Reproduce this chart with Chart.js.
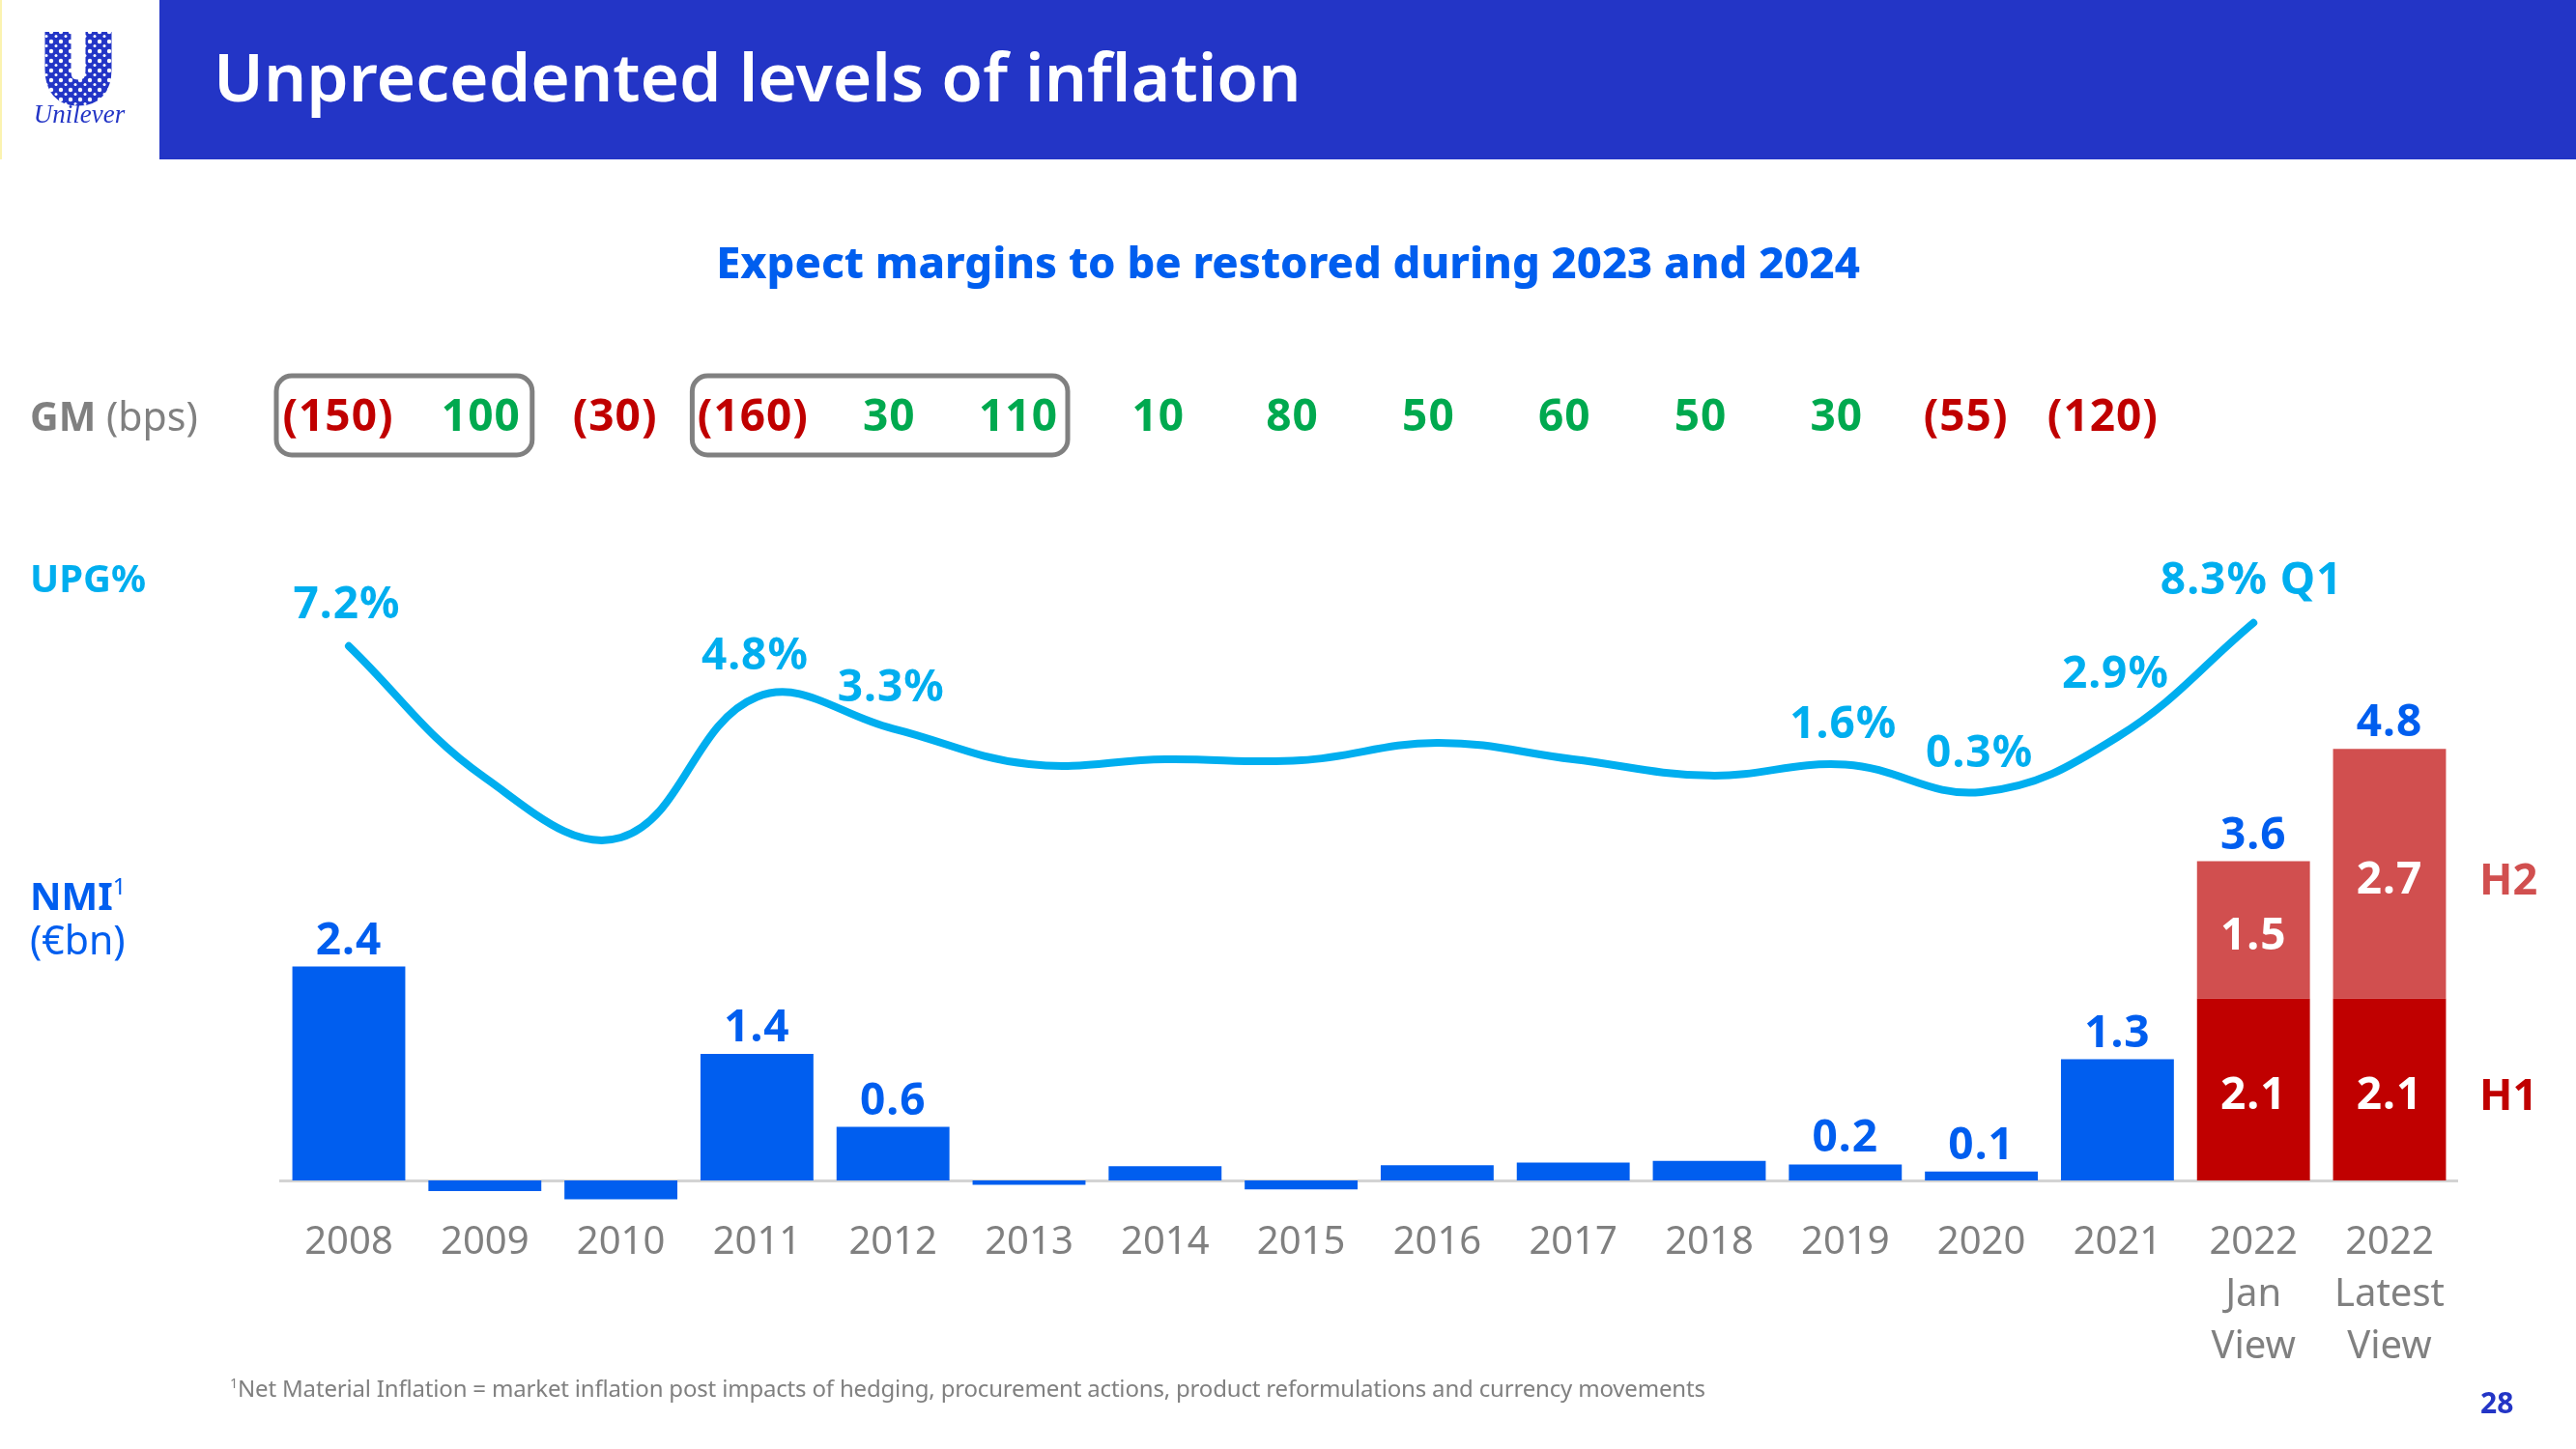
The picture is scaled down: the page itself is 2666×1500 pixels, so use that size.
<!DOCTYPE html>
<html>
<head>
<meta charset="utf-8">
<title>Unprecedented levels of inflation</title>
<script src="https://cdn.jsdelivr.net/npm/chart.js@4"></script>
<style>
    html, body { margin: 0; padding: 0; background: #fff; }
    body { width: 2666px; height: 1500px; position: relative; overflow: hidden; font-family: "Noto Sans", sans-serif; }
    canvas { position: absolute; left: 0; top: 0; }
    .txt { position: absolute; white-space: nowrap; line-height: 1; }
    #header { position: absolute; left: 165px; top: 0; width: 2501px; height: 165px; background: #2335C6; }
    #edge { position: absolute; left: 0; top: 0; width: 2px; height: 165px; background: #FBF3B0; }
    sup { font-size: 0.6em; font-weight: 400; line-height: 0; vertical-align: 0.65em; }
</style>
</head>
<body>
<canvas id="chart" width="2666" height="1500"></canvas>
<div id="edge"></div>
<div id="header"></div>
<svg style="position:absolute;left:30px;top:28px" width="110" height="110" viewBox="30 28 110 110">
    <defs>
        <pattern id="dots" width="10" height="10" patternUnits="userSpaceOnUse">
            <rect width="10" height="10" fill="#2335C6"></rect>
            <circle cx="3" cy="3" r="2.2" fill="#fff"></circle>
            <circle cx="8" cy="7.5" r="1.5" fill="#fff"></circle>
        </pattern>
    </defs>
    <path d="M60 33 V72 Q60 96 81 96 Q102 96 102 72 V33" fill="none" stroke="url(#dots)" stroke-width="27"></path>
    <text x="82" y="127" text-anchor="middle" fill="#2335C6" font-family="Liberation Serif" font-style="italic" font-size="27">Unilever</text>
</svg>
<div class="txt" style="left:221px;top:44px;font-size:69.5px;font-weight:600;color:#fff">Unprecedented levels of inflation</div>
<div class="txt" style="left:0;width:2666px;text-align:center;top:248px;font-size:45.3px;font-weight:800;color:#005EEF">Expect margins to be restored during 2023 and 2024</div>
<div class="txt" style="left:31px;top:410px;font-size:41px;color:#808080"><b>GM</b> (bps)</div>
<div class="txt" style="left:31px;top:578px;font-size:40px;font-weight:700;color:#00AEEF">UPG%</div>
<div class="txt" style="left:31px;top:907px;font-size:40px;font-weight:700;color:#005EEF">NMI<sup>1</sup></div>
<div class="txt" style="left:31px;top:952px;font-size:41px;color:#005EEF">(€bn)</div>
<div class="txt" style="left:2566px;top:886px;font-size:45px;font-weight:700;color:#D14F4F">H2</div>
<div class="txt" style="left:2566px;top:1109px;font-size:45px;font-weight:700;color:#C00000">H1</div>
<div class="txt" style="left:238px;top:1425px;font-size:24px;letter-spacing:-0.18px;color:#808080"><sup>1</sup>Net Material Inflation = market inflation post impacts of hedging, procurement actions, product reformulations and currency movements</div>
<div class="txt" style="left:2567px;top:1437px;font-size:30px;font-weight:700;color:#2335C6">28</div>
<script>
const categories = ['2008', '2009', '2010', '2011', '2012', '2013', '2014', '2015', '2016', '2017', '2018', '2019', '2020', '2021',
    ['2022', 'Jan', 'View'], ['2022', 'Latest', 'View']];

// bar heights, unlabelled years are estimates
const nmi = [2.4, -0.12, -0.21, 1.42, 0.6, -0.05, 0.16, -0.1, 0.17, 0.2, 0.22, 0.18, 0.1, 1.36, null, null];
const nmiH1 = [null, null, null, null, null, null, null, null, null, null, null, null, null, null, 2.04, 2.04];
const nmiH2 = [null, null, null, null, null, null, null, null, null, null, null, null, null, null, 1.54, 2.8];
const nmiLabels = ['2.4', null, null, '1.4', '0.6', null, null, null, null, null, null, '0.2', '0.1', '1.3', '3.6', '4.8'];
const h1Labels = [null, null, null, null, null, null, null, null, null, null, null, null, null, null, '2.1', '2.1'];
const h2Labels = [null, null, null, null, null, null, null, null, null, null, null, null, null, null, '1.5', '2.7'];

const upg = [7.2, 0.98, -1.85, 4.8, 3.3, 1.62, 1.85, 1.8, 2.63, 1.85, 1.08, 1.6, 0.3, 2.9, 8.3, null];
const upgLabels = ['7.2%', null, null, '4.8%', '3.3%', null, null, null, null, null, null, '1.6%', '0.3%', '2.9%', '8.3% Q1', null];

const gm = ['(150)', '100', '(30)', '(160)', '30', '110', '10', '80', '50', '60', '50', '30', '(55)', '(120)'];

const gmNudge = [-11, -4, -6, -4, -4, -11, -7, -9, -9, -9, -9, -9, -16, -15];
const gmBoxes = [{ from: 0, to: 1, left: 75, right: 49 }, { from: 3, to: 5, left: 67, right: 40 }];
const upgLift = [42, 0, 0, 42, 41, 0, 0, 0, 0, 0, 0, 41, 39, 64, 43, 0];

const BLUE = '#005EEF', CYAN = '#00AEEF', RED = '#C00000', PINK = '#D14F4F', GREEN = '#00A94F', GREY = '#808080';
const LABEL_FONT = '700 46px "Noto Sans"';

const textPlugin = {
    id: 'textPlugin',
    afterDatasetsDraw(chart) {
        const ctx = chart.ctx;
        const x = chart.scales.x;
        const y = chart.scales.y;
        const yUpg = chart.scales.upg;
        ctx.save();
        ctx.textAlign = 'center';
        ctx.textBaseline = 'middle';
        ctx.font = LABEL_FONT;
        ctx.letterSpacing = '1px';

        // totals above the bars
        ctx.fillStyle = BLUE;
        nmiLabels.forEach((t, i) => {
            if (!t) return;
            const top = (nmi[i] || 0) + (nmiH1[i] || 0) + (nmiH2[i] || 0);
            ctx.fillText(t, x.getPixelForValue(i), y.getPixelForValue(top) - 26);
        });

        // values inside the stacked bars
        ctx.fillStyle = '#fff';
        h1Labels.forEach((t, i) => {
            if (t) ctx.fillText(t, x.getPixelForValue(i), y.getPixelForValue(nmiH1[i] / 2) + 7);
        });
        h2Labels.forEach((t, i) => {
            if (t) ctx.fillText(t, x.getPixelForValue(i), y.getPixelForValue(nmiH1[i] + nmiH2[i] / 2) + 7);
        });

        // line labels
        ctx.fillStyle = CYAN;
        upgLabels.forEach((t, i) => {
            if (t) ctx.fillText(t, x.getPixelForValue(i) - 2, yUpg.getPixelForValue(upg[i]) - upgLift[i]);
        });

        // GM row
        gm.forEach((t, i) => {
            ctx.fillStyle = t[0] === '(' ? RED : GREEN;
            ctx.fillText(t, x.getPixelForValue(i) + gmNudge[i], 433);
        });
        ctx.strokeStyle = GREY;
        ctx.lineWidth = 5;
        gmBoxes.forEach(b => {
            const left = x.getPixelForValue(b.from) - b.left;
            const right = x.getPixelForValue(b.to) + b.right;
            ctx.beginPath();
            ctx.roundRect(left, 389, right - left, 82, 16);
            ctx.stroke();
        });
        ctx.restore();
    }
};

new Chart(document.getElementById('chart'), {
    type: 'bar',
    data: {
        labels: categories,
        datasets: [
            { type: 'line', label: 'UPG%', data: upg, yAxisID: 'upg', borderColor: CYAN, borderWidth: 8, borderCapStyle: 'round', tension: 0.4, pointRadius: 0, order: 0 },
            { label: 'NMI', data: nmi, backgroundColor: BLUE, order: 1 },
            { label: 'H1', data: nmiH1, backgroundColor: RED, order: 1 },
            { label: 'H2', data: nmiH2, backgroundColor: PINK, order: 1 }
        ]
    },
    options: {
        responsive: false,
        animation: false,
        layout: { padding: { left: 290.6, right: 122.6, top: 483.6, bottom: 93.4 } },
        datasets: { bar: { barPercentage: 0.83, categoryPercentage: 1 } },
        plugins: { legend: { display: false }, tooltip: { enabled: false } },
        scales: {
            x: {
                stacked: true,
                position: { y: 0 },
                grid: { display: false },
                border: { display: true, color: '#D3D3D3', width: 3 },
                ticks: {
                    padding: 30,
                    color: GREY,
                    maxRotation: 0,
                    autoSkip: false,
                    font: { family: 'Noto Sans', size: 40, lineHeight: 1.35 }
                }
            },
            y: { stacked: true, display: false, min: -2, max: 8 },
            upg: { display: false, min: -26.49, max: 15.66 }
        }
    },
    plugins: [textPlugin]
});
</script>
</body>
</html>
